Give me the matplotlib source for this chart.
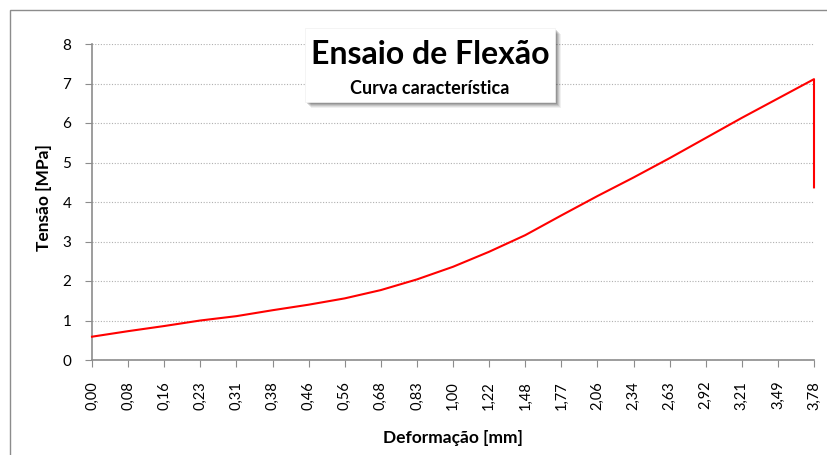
import numpy as np
import matplotlib.pyplot as plt
from matplotlib.patches import Rectangle

# ensaio de flexão: deformação [mm] x tensão [MPa]
deformacao = [0.00, 0.08, 0.16, 0.23, 0.31, 0.38, 0.46, 0.56, 0.68, 0.83, 1.00,
              1.22, 1.48, 1.77, 2.06, 2.34, 2.63, 2.92, 3.21, 3.49, 3.78]
tensao = [0.59, 0.73, 0.86, 1.00, 1.11, 1.26, 1.40, 1.56, 1.77, 2.04, 2.36,
          2.74, 3.16, 3.66, 4.15, 4.62, 5.11, 5.62, 6.13, 6.62, 7.11]
# ruptura: queda de tensão no fim do ensaio
deformacao_ruptura = 3.78
tensao_ruptura = 4.37

plt.rcParams['font.family'] = ['Lato', 'DejaVu Sans']

fig = plt.figure(figsize=(8.27, 4.55), dpi=100)
W, H = 827, 455

# moldura do gráfico
fig.patches.append(Rectangle((10 / W, -0.1), 1.1, 1 - 10 / H + 0.1,
                             transform=fig.transFigure, fill=False,
                             edgecolor='#8c8c8c', linewidth=1.0))

ax = fig.add_axes([92 / W, 1 - 360 / H, (814 - 92) / W, (360 - 44) / H])

# eixo de categorias: cada leitura ocupa uma posição
pos = np.arange(len(deformacao))
pos_ruptura = pos[deformacao.index(deformacao_ruptura)]
xs = list(pos) + [pos_ruptura]
ys = tensao + [tensao_ruptura]
ax.plot(xs, ys, color='#ff0000', linewidth=1.5, zorder=3, clip_on=False)

ax.set_xlim(0, len(deformacao) - 1)
ax.set_ylim(0, 8)
ax.set_xticks(pos)
ax.set_xticklabels([f"{d:.2f}".replace('.', ',') for d in deformacao],
                   rotation=90, fontsize=10.5)
ax.set_yticks(range(0, 9))
ax.tick_params(axis='y', labelsize=11, length=5, color='#8c8c8c', pad=10)
ax.tick_params(axis='x', length=5, color='#8c8c8c', pad=10)

for s in ['top', 'right']:
    ax.spines[s].set_visible(False)
for s in ['left', 'bottom']:
    ax.spines[s].set_color('#8c8c8c')
    ax.spines[s].set_linewidth(1.2)

ax.yaxis.grid(True, linestyle=(0, (1, 1.5)), color='#b0b0b0', linewidth=0.8)
ax.set_axisbelow(True)

ax.set_ylabel('Tensão [MPa]', fontsize=12.5, fontweight='bold', va='center')
ax.yaxis.set_label_coords((44 - 92) / 722, (360 - 198) / 316)
ax.set_xlabel('Deformação [mm]', fontsize=12.5, fontweight='bold', va='center')
ax.xaxis.set_label_coords((453 - 92) / 722, (360 - 438) / 316)

# caixa do título com sombra
bx0, by0, bx1, by1 = 305, 28, 555, 102
for k, a in [(6, 0.06), (5, 0.08), (4, 0.1), (3, 0.12), (2, 0.14)]:
    fig.patches.append(Rectangle(((bx0 + k) / W, 1 - (by1 + k) / H),
                                 (bx1 - bx0) / W, (by1 - by0) / H,
                                 transform=fig.transFigure, facecolor='black',
                                 edgecolor='none', alpha=a, zorder=5))
fig.patches.append(Rectangle((bx0 / W, 1 - by1 / H), (bx1 - bx0) / W,
                             (by1 - by0) / H, transform=fig.transFigure,
                             facecolor='white', edgecolor='#f0f0f0',
                             linewidth=0.5, zorder=6))
fig.text((bx0 + bx1) / 2 / W, 1 - 55 / H, 'Ensaio de Flexão', ha='center',
         va='center', fontsize=23, fontweight='bold', zorder=7)
fig.text((bx0 + bx1) / 2 / W, 1 - 88 / H, 'Curva característica',
         ha='center', va='center', fontsize=13, fontweight='bold', zorder=7)

fig.savefig('out.png', dpi=100)
